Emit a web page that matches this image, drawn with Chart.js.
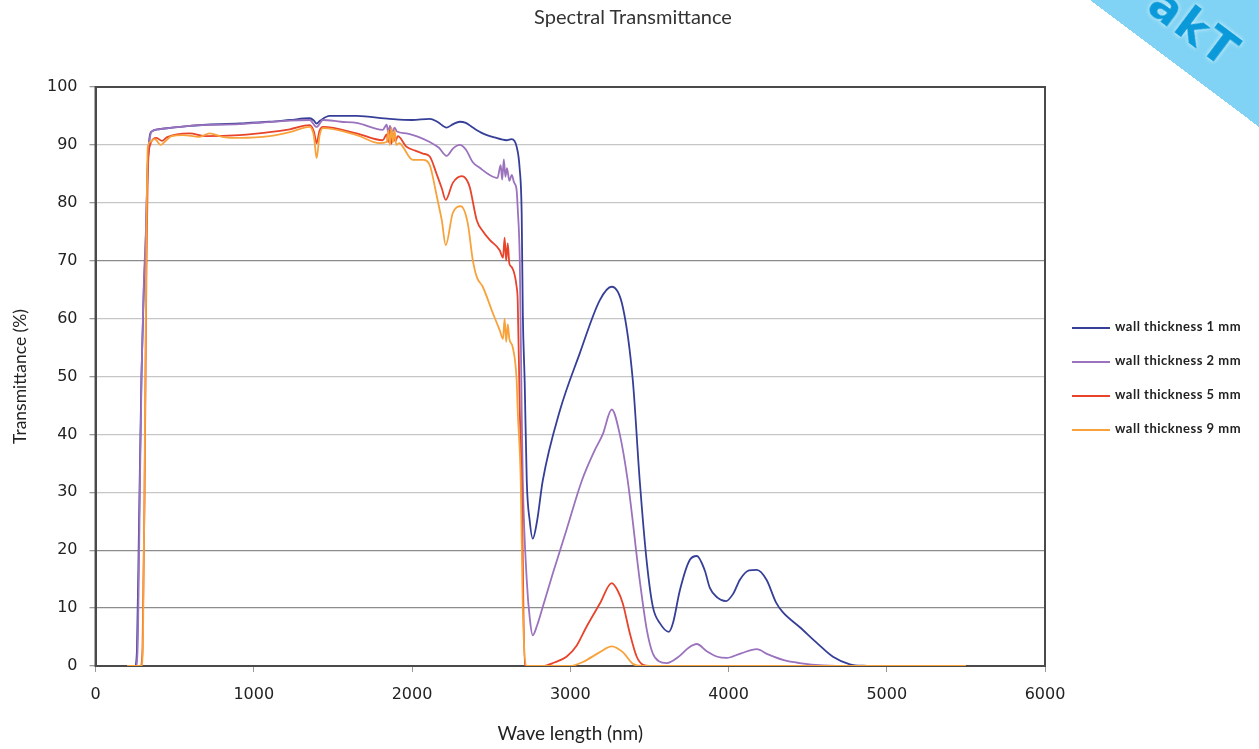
<!DOCTYPE html>
<html>
<head>
<meta charset="utf-8">
<script src="https://cdn.jsdelivr.net/npm/chart.js@4"></script>
<style>
    body { margin: 0; background: #fff; overflow: hidden; }
    .chartBox { position: relative; width: 1259px; height: 749px; }
    .chartTitle { position: absolute; left: 0; width: 1266px; top: 4px; text-align: center;
        font: 20px Lato, sans-serif; color: #333; }
    #legend { position: absolute; left: 1072px; top: 317px; margin: 0; padding: 0; list-style: none;
        font-family: Lato, sans-serif; font-weight: bold; font-size: 13px; letter-spacing: 0.5px; color: #222; }
    #legend li { height: 34px; line-height: 18px; white-space: nowrap; }
    .itemMaker { display: inline-block; width: 38px; height: 0; vertical-align: middle; margin-right: 5px; }
    .stamp { position: absolute; left: 1090px; top: -130px; width: 320px; height: 130px;
        transform-origin: bottom left; transform: rotate(36.9deg); background: #80d3f4; overflow: hidden; }
    .stamp span { position: absolute; left: 50px; bottom: 14px; font: bold 46px "DejaVu Sans", sans-serif;
        color: #0b9ad9; text-shadow: 0 0 4px #e8f8ff; letter-spacing: 2px; }
</style>
</head>
<body>
<div class="chartBox">
    <canvas id="myChart"></canvas>
    <div class="chartTitle">Spectral Transmittance</div>
    <ul id="legend"></ul>
    <div class="stamp"><span>akT</span></div>
</div>
<script>
// wave length (nm) / transmittance (%) per wall thickness
const labels = ['wall thickness 1 mm', 'wall thickness 2 mm', 'wall thickness 5 mm', 'wall thickness 9 mm'];
const colors = ['#363f98', '#9b72bd', '#e8432b', '#f8a23c'];

const wl1 = [200, 250, 262, 275, 290, 305, 316, 328, 340, 354, 400, 594, 910, 1100, 1227, 1353, 1380, 1397, 1420, 1479, 1650, 1859, 2000, 2112, 2160, 2219, 2260, 2301, 2340, 2384, 2447, 2520, 2598, 2630, 2661, 2680, 2693, 2700, 2712, 2725, 2744, 2763, 2790, 2826, 2933, 3060, 3187, 3262, 3332, 3395, 3439, 3484, 3522, 3566, 3623, 3650, 3692, 3755, 3800, 3850, 3882, 3930, 3983, 4030, 4072, 4130, 4178, 4240, 4300, 4343, 4451, 4558, 4660, 4767, 4850, 5000, 5500];
const t1 = [0, 0, 3, 25, 50, 65, 72, 85, 91, 92.3, 92.7, 93.3, 93.7, 94, 94.3, 94.6, 94.2, 93.7, 94.2, 95, 95, 94.5, 94.3, 94.5, 94, 93, 93.6, 94, 93.8, 93, 92, 91.3, 90.8, 91, 89.7, 86, 78, 61, 49, 32, 25, 22, 25, 32, 44, 54, 63.2, 65.5, 62, 49.4, 32, 17.8, 10.2, 7.4, 5.9, 7.5, 13, 18.3, 19, 16.5, 13.5, 11.8, 11.2, 12.5, 14.9, 16.5, 16.6, 14.9, 11, 9.3, 6.7, 4, 1.6, 0.3, 0.05, 0, 0];

const wl2 = [200, 255, 268, 280, 292, 305, 318, 330, 345, 360, 400, 594, 910, 1227, 1353, 1397, 1437, 1550, 1650, 1815, 1840, 1850, 1860, 1875, 1890, 1905, 1964, 2040, 2112, 2170, 2219, 2260, 2301, 2340, 2384, 2430, 2491, 2540, 2560, 2570, 2580, 2590, 2600, 2615, 2630, 2645, 2661, 2668, 2681, 2693, 2700, 2725, 2745, 2763, 2790, 2826, 2890, 2976, 3073, 3150, 3205, 3262, 3313, 3363, 3439, 3484, 3521, 3560, 3610, 3680, 3750, 3800, 3860, 3930, 3988, 4080, 4178, 4250, 4350, 4450, 4600, 4800, 5500];
const t2 = [0, 0, 5, 30, 52, 66, 75, 87, 91.5, 92.4, 92.7, 93.3, 93.6, 94.2, 94.3, 93.1, 94.3, 94, 93.8, 92.6, 93.5, 92, 93.3, 92.2, 93, 92.3, 92, 91.4, 90.5, 89.5, 88.1, 89.4, 90, 89.2, 87, 86, 84.8, 84.3, 86.5, 84, 87.5, 84.5, 86, 83.8, 84.8, 83.5, 82.2, 79, 70, 44, 32, 14.8, 8, 5.3, 7, 10.2, 16, 23.5, 32, 37, 40, 44.3, 40, 32, 14.8, 6.2, 2.2, 0.8, 0.5, 1.5, 3.2, 3.8, 2.6, 1.6, 1.4, 2.2, 2.9, 2, 1, 0.5, 0.1, 0, 0];

const wl5 = [200, 285, 297, 310, 322, 330, 345, 385, 420, 450, 594, 700, 910, 1100, 1227, 1353, 1380, 1397, 1415, 1437, 1650, 1815, 1840, 1850, 1860, 1870, 1880, 1895, 1910, 1964, 2020, 2069, 2112, 2155, 2188, 2213, 2257, 2314, 2345, 2365, 2409, 2450, 2491, 2554, 2575, 2585, 2595, 2605, 2615, 2630, 2661, 2668, 2681, 2693, 2712, 2826, 2900, 2976, 3040, 3101, 3187, 3262, 3300, 3332, 3376, 3420, 3460, 3500, 5500];
const t5 = [0, 0, 3, 30, 70, 85, 90, 91.2, 90.7, 91.3, 92, 91.5, 91.7, 92.2, 92.7, 93.4, 92.3, 90.3, 92.4, 93.1, 92, 90.8, 91.8, 90.5, 92.5, 90.2, 92, 90.6, 91.5, 89.7, 89, 88.5, 88, 85, 82.5, 80.5, 83.4, 84.6, 84, 82.7, 77, 75, 73.6, 71.8, 70.5, 74, 70, 73, 69.5, 68.9, 65.5, 63, 44, 32, 0, 0, 0.6, 1.6, 3.5, 6.7, 10.8, 14.3, 13, 10.8, 5.7, 1.6, 0.2, 0, 0];

const wl9 = [200, 290, 300, 312, 322, 330, 345, 370, 385, 410, 436, 480, 550, 657, 721, 800, 910, 1100, 1227, 1353, 1380, 1397, 1415, 1437, 1650, 1796, 1840, 1850, 1860, 1870, 1880, 1890, 1900, 1922, 1941, 2005, 2069, 2112, 2150, 2165, 2188, 2213, 2257, 2308, 2352, 2384, 2409, 2447, 2510, 2554, 2575, 2585, 2595, 2605, 2615, 2636, 2661, 2668, 2687, 2700, 2725, 3000, 3080, 3187, 3262, 3332, 3395, 3450, 5500];
const t9 = [0, 0, 5, 40, 75, 89.6, 90.5, 91, 90.8, 90, 90.5, 91.5, 91.7, 91.4, 92, 91.4, 91.2, 91.5, 92.2, 93.1, 91.5, 87.7, 91.5, 92.9, 91.7, 90.3, 90.5, 92.5, 90, 93, 90.5, 92.5, 90, 90.3, 89.7, 87.4, 87.4, 86.5, 82, 80, 77, 72.7, 78.2, 79.4, 76.5, 70.1, 67.2, 65.5, 61, 58, 56.5, 60, 56, 59, 56.5, 55.1, 49.4, 44, 32, 10, 0, 0, 0.7, 2.4, 3.4, 2.4, 0.4, 0, 0];

const xTicks = [0, 1000, 2000, 3000, 4000, 5000, 6000];
const yTicks = [0, 10, 20, 30, 40, 50, 60, 70, 80, 90, 100];
const darkGrid = [10, 20, 70];

function toPoints(wl, t) {
    return wl.map((x, i) => ({ x: x, y: t[i] }));
}

function getDataSet() {
    const series = [[wl1, t1], [wl2, t2], [wl5, t5], [wl9, t9]];
    return series.map((s, i) => ({
        label: labels[i],
        data: toPoints(s[0], s[1]),
        borderColor: colors[i],
        backgroundColor: colors[i],
        borderWidth: 1.8,
        pointRadius: 0,
        cubicInterpolationMode: 'monotone',
        order: series.length - i
    }));
}

function generateCustomLegend(chart) {
    const legendContainer = document.getElementById('legend');
    legendContainer.innerHTML = '';
    chart.data.datasets.forEach(ds => {
        const listItem = document.createElement('li');
        const legendBullet = document.createElement('span');
        legendBullet.className = 'itemMaker';
        legendBullet.style.borderTop = '2px solid ' + ds.borderColor;
        const itemText = document.createElement('span');
        itemText.textContent = ds.label;
        listItem.appendChild(legendBullet);
        listItem.appendChild(itemText);
        legendContainer.appendChild(listItem);
    });
}

// dark frame round the plot area
const plotFrame = {
    id: 'plotFrame',
    beforeDatasetsDraw(chart) {
        const { ctx, chartArea: a } = chart;
        ctx.save();
        ctx.strokeStyle = '#4a4a4a';
        ctx.lineWidth = 2;
        ctx.strokeRect(a.left, a.top, a.right - a.left, a.bottom - a.top);
        ctx.restore();
    }
};

const tickFont = { family: '"DejaVu Sans", sans-serif', size: 16 };

const ctx = document.getElementById('myChart');
const myChart = new Chart(ctx, {
    type: 'line',
    data: { datasets: getDataSet() },
    plugins: [plotFrame],
    options: {
        responsive: true,
        maintainAspectRatio: false,
        animation: false,
        layout: { padding: { left: 0, right: 214, top: 87, bottom: 0 } },
        plugins: {
            legend: { display: false },
            tooltip: { enabled: false },
            title: { display: false }
        },
        scales: {
            x: {
                type: 'linear',
                min: 0,
                max: 6000,
                afterBuildTicks: axis => { axis.ticks = xTicks.map(v => ({ value: v })); },
                ticks: { font: tickFont, color: '#222', padding: 13, maxRotation: 0, callback: v => String(v) },
                grid: { drawOnChartArea: false, drawTicks: true, tickLength: 6, tickColor: '#999' },
                border: { display: true, color: '#4a4a4a', width: 2 },
                title: {
                    display: true,
                    text: 'Wave length (nm)',
                    color: '#222',
                    font: { family: 'Lato, sans-serif', size: 19 },
                    padding: { top: 5, bottom: 4 }
                }
            },
            y: {
                min: 0,
                max: 100,
                afterBuildTicks: axis => { axis.ticks = yTicks.map(v => ({ value: v })); },
                ticks: { font: tickFont, color: '#222', padding: 12, callback: v => String(v) },
                grid: {
                    color: c => darkGrid.includes(c.tick && c.tick.value) ? '#8c8c8c' : '#c6c6c6',
                    tickColor: '#999',
                    tickLength: 6,
                    lineWidth: 1.3
                },
                border: { display: true, color: '#4a4a4a', width: 2 },
                title: {
                    display: true,
                    text: 'Transmittance (%)',
                    color: '#222',
                    font: { family: 'Lato, sans-serif', size: 17.5 },
                    padding: { top: 10, bottom: 4 }
                }
            }
        }
    }
});
generateCustomLegend(myChart);
</script>
</body>
</html>
